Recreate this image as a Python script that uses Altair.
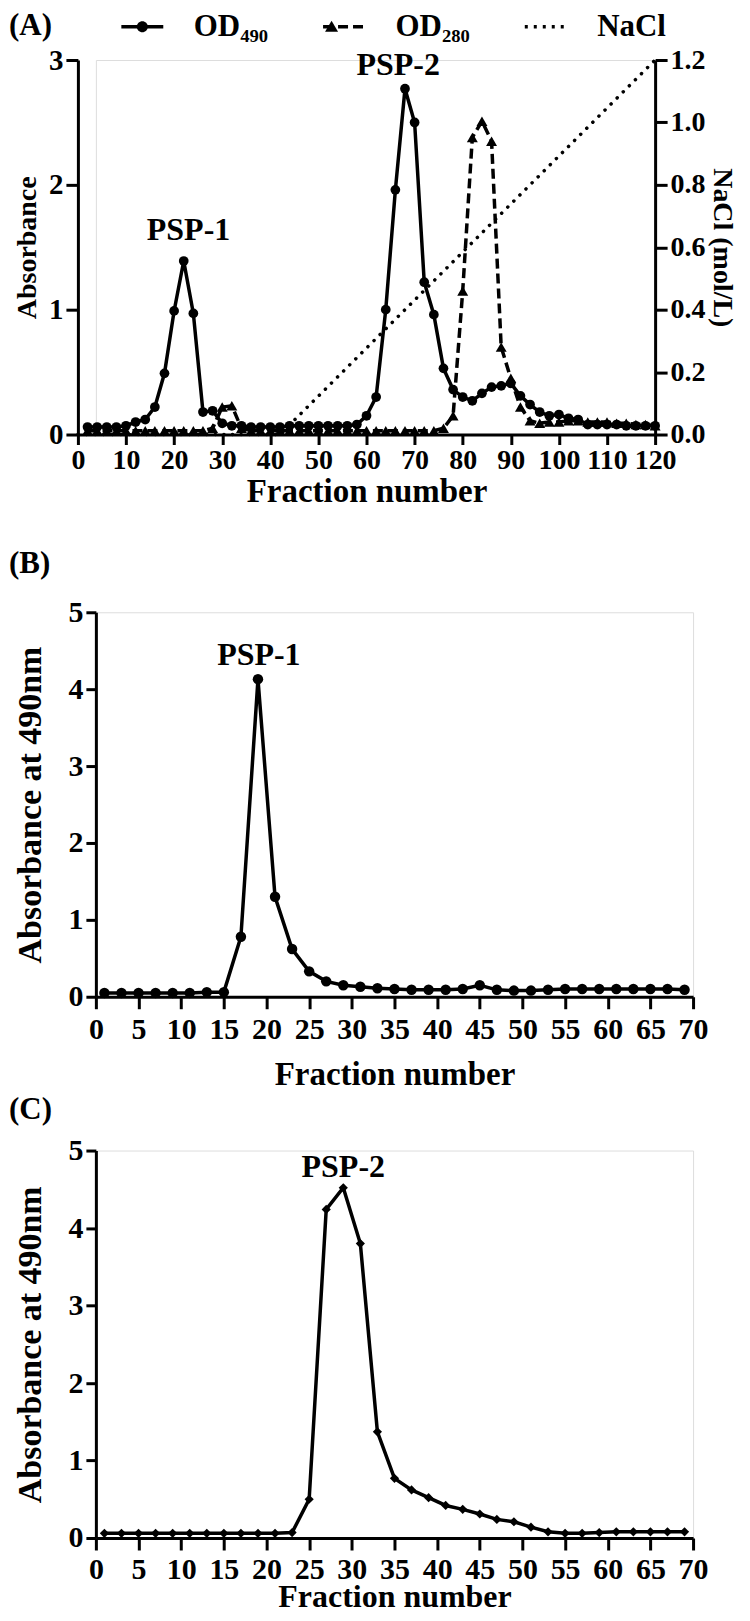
import altair as alt
import pandas as pd

FONT = "Liberation Serif"

# ---------------- Panel A: DEAE column ----------------
A_FRACTION = list(range(2, 121, 2))
A_OD490 = [0.06, 0.06, 0.06, 0.06, 0.07, 0.10, 0.12, 0.22, 0.49, 0.99,
           1.39, 0.97, 0.18, 0.19, 0.09, 0.07, 0.07, 0.06, 0.06, 0.06,
           0.06, 0.07, 0.07, 0.07, 0.07, 0.07, 0.07, 0.07, 0.08, 0.15,
           0.30, 1.00, 1.96, 2.77, 2.50, 1.22, 0.96, 0.53, 0.36, 0.30,
           0.27, 0.33, 0.38, 0.39, 0.41, 0.31, 0.24, 0.18, 0.15, 0.16,
           0.13, 0.12, 0.08, 0.08, 0.08, 0.08, 0.07, 0.07, 0.07, 0.07]
A_OD280 = [0.03, 0.03, 0.03, 0.03, 0.03, 0.03, 0.03, 0.03, 0.03, 0.03,
           0.03, 0.03, 0.03, 0.05, 0.22, 0.23, 0.05, 0.03, 0.03, 0.03,
           0.03, 0.03, 0.03, 0.03, 0.03, 0.03, 0.03, 0.03, 0.03, 0.03,
           0.03, 0.03, 0.03, 0.03, 0.03, 0.03, 0.03, 0.05, 0.15, 1.15,
           2.38, 2.51, 2.35, 0.70, 0.45, 0.22, 0.11, 0.09, 0.10, 0.10,
           0.11, 0.11, 0.10, 0.10, 0.10, 0.09, 0.09, 0.08, 0.08, 0.07]
A_NACL_FRACTION = [0, 42, 120]
A_NACL = [0.0, 0.0, 1.2]
A_SERIES = ["OD₄₉₀", "OD₂₈₀", "NaCl"]
A_PEAK_LABELS = ["PSP-1", "PSP-2"]
A_PEAK_X = [23.0, 66.6]
A_PEAK_Y = [1.64, 2.96]

# ---------------- Panel B: PSP-1 gel filtration ----------------
B_FRACTION = list(range(1, 70, 2))
B_OD490 = [0.05, 0.05, 0.05, 0.05, 0.05, 0.05, 0.06, 0.06, 0.78, 4.13,
           1.30, 0.62, 0.33, 0.20, 0.15, 0.13, 0.11, 0.10, 0.09, 0.09,
           0.09, 0.10, 0.15, 0.09, 0.08, 0.08, 0.09, 0.10, 0.10, 0.10,
           0.10, 0.10, 0.10, 0.10, 0.09]
B_PEAK_LABELS = ["PSP-1"]
B_PEAK_X = [19.1]
B_PEAK_Y = [4.44]

# ---------------- Panel C: PSP-2 gel filtration ----------------
C_FRACTION = list(range(1, 70, 2))
C_OD490 = [0.06, 0.06, 0.06, 0.06, 0.06, 0.06, 0.06, 0.06, 0.06, 0.06,
           0.06, 0.07, 0.50, 4.24, 4.52, 3.80, 1.37, 0.77, 0.62, 0.52,
           0.42, 0.37, 0.31, 0.24, 0.21, 0.14, 0.08, 0.06, 0.06, 0.07,
           0.08, 0.08, 0.08, 0.08, 0.08]
C_PEAK_LABELS = ["PSP-2"]
C_PEAK_X = [29.0]
C_PEAK_Y = [4.79]

PANEL_LABELS = ["(A)", "(B)", "(C)"]

# legend glyphs (unit-square SVG paths)
LEG_LINE = "M-2.1,0H2.1"
LEG_CIRCLE = "M0.55,0A0.55,0.55,0,1,1,-0.55,0A0.55,0.55,0,1,1,0.55,0Z"
LEG_TRIANGLE = "M-0.6,0.5L0.05,-0.6L0.7,0.5Z"
LEG_NONE = "M0,0"
MARKER_KEYS = [s + " " for s in A_SERIES]


def axis(**kw):
    base = dict(domainWidth=3, tickWidth=3, domainColor="black", tickColor="black",
                labelColor="black", titleColor="black", labelFont=FONT, titleFont=FONT,
                labelFontWeight="bold", titleFontWeight="bold", grid=False,
                labelOverlap=False, labelFlush=False, labelBound=False)
    base.update(kw)
    return alt.Axis(**base)


def legend(**kw):
    base = dict(title=None, orient="none", legendX=31, legendY=-49, direction="horizontal",
                symbolSize=400, labelOffset=36, columnPadding=47, labelFont=FONT,
                labelFontSize=31, labelFontWeight="bold", labelColor="black",
                labelLimit=0, padding=0)
    base.update(kw)
    return alt.Legend(**base)


def text_layer(labels, xs, ys, xenc, yenc, size=32):
    df = pd.DataFrame({"fraction": xs, "value": ys, "label": labels})
    return alt.Chart(df).mark_text(font=FONT, fontSize=size, fontWeight="bold",
                                   color="black", align="center", baseline="middle").encode(
        x=xenc, y=yenc, text="label:N")


def panel_label(label, x, y):
    df = pd.DataFrame({"label": [label]})
    return alt.Chart(df).mark_text(font=FONT, fontSize=31, fontWeight="bold", color="black",
                                   align="left", baseline="top").encode(
        x=alt.value(x), y=alt.value(y), text="label:N")


def spacer(x, y):
    return alt.Chart(pd.DataFrame({"k": [0]})).mark_rule(strokeOpacity=0).encode(
        x=alt.value(x), x2=alt.value(x + 1), y=alt.value(y), y2=alt.value(y + 1))


# ---------- Panel A ----------
xA = alt.X("fraction:Q", scale=alt.Scale(domain=[0, 120], range=[-18, 560], nice=False),
           axis=axis(values=list(range(0, 121, 10)), tickSize=10, labelPadding=2,
                     labelFontSize=28, title="Fraction number", titleFontSize=33,
                     titlePadding=1))
yA = alt.Y("value:Q", scale=alt.Scale(domain=[0, 3], nice=False),
           axis=axis(values=[0, 1, 2, 3], tickSize=12, labelPadding=3, labelFontSize=29,
                     title="Absorbance", titleFontSize=28, titlePadding=7, offset=18))
yN = alt.Y("nacl:Q", scale=alt.Scale(domain=[0, 1.2], nice=False),
           axis=axis(orient="right", values=[0, 0.2, 0.4, 0.6, 0.8, 1.0, 1.2], format=".1f",
                     tickSize=12, labelPadding=3, labelFontSize=28,
                     title="NaCl (mol/L)", titleFontSize=28, titlePadding=2))

df490 = pd.DataFrame({"fraction": A_FRACTION, "value": A_OD490})
df280 = pd.DataFrame({"fraction": A_FRACTION, "value": A_OD280})
dfN = pd.DataFrame({"fraction": A_NACL_FRACTION, "nacl": A_NACL})
dfLeg = pd.DataFrame({"series": A_SERIES, "marker": MARKER_KEYS})

a490_line = alt.Chart(df490).mark_line(color="black", strokeWidth=3.5).encode(x=xA, y=yA)
a490_pts = alt.Chart(df490).mark_point(shape="circle", filled=True, size=95, color="black",
                                       opacity=1).encode(x=xA, y=yA)
a280_line = alt.Chart(df280).mark_line(color="black", strokeWidth=3.5,
                                       strokeDash=[10, 5]).encode(x=xA, y=yA)
a280_pts = alt.Chart(df280).mark_point(shape="triangle-up", filled=True, size=120,
                                       color="black", opacity=1).encode(x=xA, y=yA)
a_psp = text_layer(A_PEAK_LABELS, A_PEAK_X, A_PEAK_Y, xA, yA)
a_lab = panel_label(PANEL_LABELS[0], -87, -49)
a_space = spacer(645, 0)
# legend: line styles (with labels) and markers drawn on top (labels hidden)
a_leg_lines = alt.Chart(dfLeg).transform_filter("false").mark_line(
    color="black", strokeWidth=3.5).encode(
    strokeDash=alt.StrokeDash("series:N",
                              scale=alt.Scale(domain=A_SERIES, range=[[1, 0], [10, 5], [3, 6]]),
                              legend=legend(symbolType=LEG_LINE, symbolStrokeWidth=3.5,
                                            symbolStrokeColor="black")))
a_leg_marks = alt.Chart(dfLeg).transform_filter("false").mark_point(
    filled=True, color="black", opacity=1).encode(
    shape=alt.Shape("marker:N",
                    scale=alt.Scale(domain=MARKER_KEYS,
                                    range=[LEG_CIRCLE, LEG_TRIANGLE, LEG_NONE]),
                    legend=legend(labelOpacity=0, labelExpr="trim(datum.label)")))
a_nacl = alt.Chart(dfN).mark_line(color="black", strokeWidth=3.5, strokeDash=[0.1, 8.5],
                                  strokeCap="round").encode(x=xA, y=yN)

panelA = alt.layer(
    alt.layer(a490_line, a490_pts, a280_line, a280_pts, a_psp, a_lab, a_space,
              a_leg_lines, a_leg_marks),
    a_nacl
).resolve_scale(y="independent").properties(width=560, height=375)


# ---------- Panels B and C ----------
def gel_panel(fractions, values, shape, size, peak_labels, px, py, label, label_y,
              height, label_pad, title_pad, title_size, spacer_y):
    xe = alt.X("fraction:Q", scale=alt.Scale(domain=[0, 70], nice=False),
               axis=axis(values=list(range(0, 71, 5)), tickSize=12, labelPadding=label_pad,
                         labelFontSize=30, title="Fraction number", titleFontSize=title_size,
                         titlePadding=title_pad))
    ye = alt.Y("value:Q", scale=alt.Scale(domain=[0, 5], nice=False),
               axis=axis(values=[0, 1, 2, 3, 4, 5], tickSize=10, labelPadding=3,
                         labelFontSize=30, title="Absorbance at 490nm", titleFontSize=34,
                         titlePadding=20))
    df = pd.DataFrame({"fraction": fractions, "value": values})
    line = alt.Chart(df).mark_line(color="black", strokeWidth=3.5).encode(x=xe, y=ye)
    pts = alt.Chart(df).mark_point(shape=shape, filled=True, size=size, color="black",
                                   opacity=1).encode(x=xe, y=ye)
    psp = text_layer(peak_labels, px, py, xe, ye)
    lab = panel_label(label, -87, label_y)
    layers = [line, pts, psp, lab]
    if spacer_y is not None:
        layers.append(spacer(0, spacer_y))
    return alt.layer(*layers).properties(width=598, height=height)


panelB = gel_panel(B_FRACTION, B_OD490, "circle", 110, B_PEAK_LABELS, B_PEAK_X, B_PEAK_Y,
                   PANEL_LABELS[1], -63, 385, 6, 14, 33, -102)
panelC = gel_panel(C_FRACTION, C_OD490, "diamond", 85, C_PEAK_LABELS, C_PEAK_X, C_PEAK_Y,
                   PANEL_LABELS[2], -56, 388, 5, -3, 32, None)

chart = alt.vconcat(panelA, panelB, panelC, spacing=0).properties(
    padding=0).configure_view(stroke=None).configure(font=FONT)

chart.save("out.html", embed_options={"renderer": "svg", "actions": False})
